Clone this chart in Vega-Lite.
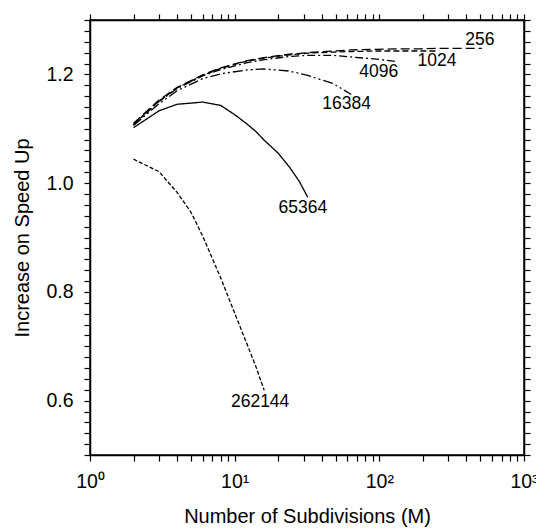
{
  "$schema": "https://vega.github.io/schema/vega-lite/v6.json",
  "autosize": {"type": "none"},
  "padding": {"left": 90, "top": 20, "right": 12, "bottom": 73},
  "width": 434,
  "height": 435,
  "config": {
    "font": "Liberation Sans",
    "view": {"stroke": "#000", "strokeWidth": 1.5},
    "axis": {
      "domainColor": "#000", "domainWidth": 1.5,
      "ticks": true, "tickColor": "black", "tickWidth": 1.2,
      "labelColor": "#000", "titleColor": "#000",
      "labelFont": "Liberation Sans", "titleFont": "Liberation Sans",
      "labelFontSize": 19.5, "titleFontSize": 20, "titleFontWeight": "normal",
      "grid": false, "labelOverlap": false, "labelBound": false, "labelFlush": false
    }
  },
  "datasets": {
    "curves": [
      {"N": "256", "M": 2, "v": 1.110}, {"N": "256", "M": 3, "v": 1.153}, {"N": "256", "M": 4, "v": 1.176},
      {"N": "256", "M": 6, "v": 1.199}, {"N": "256", "M": 8, "v": 1.212}, {"N": "256", "M": 12, "v": 1.225},
      {"N": "256", "M": 16, "v": 1.231}, {"N": "256", "M": 24, "v": 1.237}, {"N": "256", "M": 32, "v": 1.240},
      {"N": "256", "M": 48, "v": 1.243}, {"N": "256", "M": 64, "v": 1.245}, {"N": "256", "M": 96, "v": 1.246},
      {"N": "256", "M": 128, "v": 1.247}, {"N": "256", "M": 192, "v": 1.247}, {"N": "256", "M": 256, "v": 1.248},
      {"N": "256", "M": 384, "v": 1.248}, {"N": "256", "M": 512, "v": 1.248},

      {"N": "1024", "M": 2, "v": 1.108}, {"N": "1024", "M": 3, "v": 1.151}, {"N": "1024", "M": 4, "v": 1.175},
      {"N": "1024", "M": 6, "v": 1.198}, {"N": "1024", "M": 8, "v": 1.211}, {"N": "1024", "M": 12, "v": 1.224},
      {"N": "1024", "M": 16, "v": 1.230}, {"N": "1024", "M": 24, "v": 1.236}, {"N": "1024", "M": 32, "v": 1.239},
      {"N": "1024", "M": 48, "v": 1.241}, {"N": "1024", "M": 64, "v": 1.242}, {"N": "1024", "M": 96, "v": 1.243},
      {"N": "1024", "M": 128, "v": 1.243}, {"N": "1024", "M": 192, "v": 1.243}, {"N": "1024", "M": 256, "v": 1.243},

      {"N": "4096", "M": 2, "v": 1.108}, {"N": "4096", "M": 3, "v": 1.150}, {"N": "4096", "M": 4, "v": 1.174},
      {"N": "4096", "M": 6, "v": 1.197}, {"N": "4096", "M": 8, "v": 1.209}, {"N": "4096", "M": 12, "v": 1.221},
      {"N": "4096", "M": 16, "v": 1.227}, {"N": "4096", "M": 24, "v": 1.233}, {"N": "4096", "M": 32, "v": 1.235},
      {"N": "4096", "M": 48, "v": 1.235}, {"N": "4096", "M": 64, "v": 1.232}, {"N": "4096", "M": 96, "v": 1.228},
      {"N": "4096", "M": 128, "v": 1.224},

      {"N": "16384", "M": 2, "v": 1.106}, {"N": "16384", "M": 3, "v": 1.146}, {"N": "16384", "M": 4, "v": 1.170},
      {"N": "16384", "M": 6, "v": 1.192}, {"N": "16384", "M": 8, "v": 1.201}, {"N": "16384", "M": 12, "v": 1.208},
      {"N": "16384", "M": 16, "v": 1.210}, {"N": "16384", "M": 24, "v": 1.206}, {"N": "16384", "M": 32, "v": 1.198},
      {"N": "16384", "M": 48, "v": 1.183}, {"N": "16384", "M": 64, "v": 1.163},

      {"N": "65364", "M": 2, "v": 1.102}, {"N": "65364", "M": 3, "v": 1.133}, {"N": "65364", "M": 4, "v": 1.145},
      {"N": "65364", "M": 6, "v": 1.149}, {"N": "65364", "M": 8, "v": 1.143}, {"N": "65364", "M": 10, "v": 1.126},
      {"N": "65364", "M": 12, "v": 1.110}, {"N": "65364", "M": 14, "v": 1.095}, {"N": "65364", "M": 16, "v": 1.079},
      {"N": "65364", "M": 20, "v": 1.055}, {"N": "65364", "M": 24, "v": 1.029}, {"N": "65364", "M": 28, "v": 1.003},
      {"N": "65364", "M": 32, "v": 0.974},

      {"N": "262144", "M": 2, "v": 1.044}, {"N": "262144", "M": 3, "v": 1.021}, {"N": "262144", "M": 4, "v": 0.983},
      {"N": "262144", "M": 5, "v": 0.946}, {"N": "262144", "M": 6, "v": 0.903}, {"N": "262144", "M": 8, "v": 0.826},
      {"N": "262144", "M": 10, "v": 0.761}, {"N": "262144", "M": 12, "v": 0.708}, {"N": "262144", "M": 14, "v": 0.663},
      {"N": "262144", "M": 16, "v": 0.619}
    ],
    "labels": [
      {"N": "256", "M": 495, "v": 1.263},
      {"N": "1024", "M": 250, "v": 1.224},
      {"N": "4096", "M": 99, "v": 1.204},
      {"N": "16384", "M": 59.4, "v": 1.145},
      {"N": "65364", "M": 29.6, "v": 0.954},
      {"N": "262144", "M": 15, "v": 0.598}
    ]
  },
  "layer": [
    {
      "data": {"name": "curves"},
      "mark": {"type": "line", "color": "#000", "strokeWidth": 1.3},
      "encoding": {
        "x": {
          "field": "M", "type": "quantitative",
          "scale": {"type": "log", "domain": [1, 1000], "nice": false},
          "axis": {
            "orient": "bottom",
            "title": "Number of Subdivisions (M)",
            "titlePadding": 16,
            "ticks": true, "tickColor": "black", "tickSize": 6,
            "labelPadding": 11,
            "values": [1, 2, 3, 4, 5, 6, 7, 8, 9, 10, 20, 30, 40, 50, 60, 70, 80, 90, 100, 200, 300, 400, 500, 600, 700, 800, 900, 1000],
            "labelExpr": "datum.value == 1 ? '10⁰' : datum.value == 10 ? '10¹' : datum.value == 100 ? '10²' : datum.value == 1000 ? '10³' : ''"
          }
        },
        "y": {
          "field": "v", "type": "quantitative",
          "scale": {"domain": [0.5, 1.3], "nice": false, "zero": false},
          "axis": {
            "orient": "left",
            "title": "Increase on Speed Up",
            "titlePadding": 13,
            "ticks": true, "tickColor": "black", "tickSize": 6,
            "labelPadding": 11,
            "values": [0.5, 0.52, 0.54, 0.56, 0.58, 0.6, 0.62, 0.64, 0.66, 0.68, 0.7, 0.72, 0.74, 0.76, 0.78, 0.8, 0.82, 0.84, 0.86, 0.88, 0.9, 0.92, 0.94, 0.96, 0.98, 1.0, 1.02, 1.04, 1.06, 1.08, 1.1, 1.12, 1.14, 1.16, 1.18, 1.2, 1.22, 1.24, 1.26, 1.28, 1.3],
            "labelExpr": "abs(datum.value * 5 - round(datum.value * 5)) < 0.000001 && datum.value > 0.55 && datum.value < 1.25 ? format(datum.value, '.1f') : ''"
          }
        },
        "detail": {"field": "N"},
        "strokeDash": {
          "field": "N", "type": "nominal", "legend": null,
          "scale": {
            "domain": ["256", "1024", "4096", "16384", "65364", "262144"],
            "range": [[9, 4], [6, 3], [8, 3, 2, 3], [10, 3, 2, 3, 2, 3], [1, 0], [4, 2]]
          }
        }
      }
    },
    {
      "data": {"name": "labels"},
      "mark": {"type": "text", "color": "#000", "font": "Liberation Sans", "fontSize": 17.5, "align": "center", "baseline": "middle"},
      "encoding": {
        "x": {
          "field": "M", "type": "quantitative",
          "scale": {"type": "log", "domain": [1, 1000], "nice": false},
          "axis": {
            "orient": "top", "title": null, "labels": false,
            "ticks": true, "tickColor": "black", "tickSize": 6,
            "values": [1, 2, 3, 4, 5, 6, 7, 8, 9, 10, 20, 30, 40, 50, 60, 70, 80, 90, 100, 200, 300, 400, 500, 600, 700, 800, 900, 1000]
          }
        },
        "y": {
          "field": "v", "type": "quantitative",
          "scale": {"domain": [0.5, 1.3], "nice": false, "zero": false},
          "axis": {
            "orient": "right", "title": null, "labels": false,
            "ticks": true, "tickColor": "black", "tickSize": 6,
            "values": [0.5, 0.52, 0.54, 0.56, 0.58, 0.6, 0.62, 0.64, 0.66, 0.68, 0.7, 0.72, 0.74, 0.76, 0.78, 0.8, 0.82, 0.84, 0.86, 0.88, 0.9, 0.92, 0.94, 0.96, 0.98, 1.0, 1.02, 1.04, 1.06, 1.08, 1.1, 1.12, 1.14, 1.16, 1.18, 1.2, 1.22, 1.24, 1.26, 1.28, 1.3]
          }
        },
        "text": {"field": "N"}
      }
    }
  ],
  "resolve": {"axis": {"x": "independent", "y": "independent"}}
}
